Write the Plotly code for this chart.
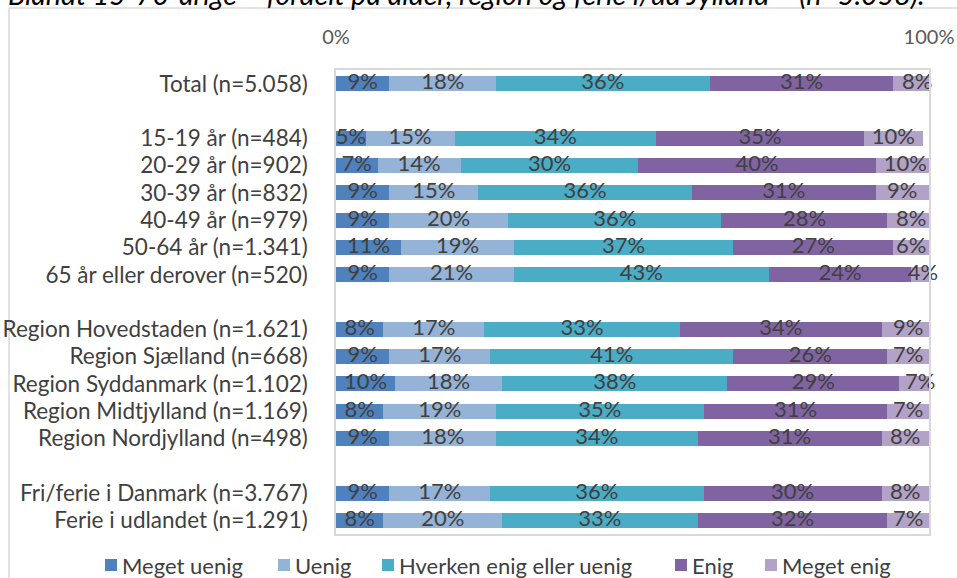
import plotly.graph_objects as go

# Row labels (blank entries act as spacers between groups)
rows = [
    "Total (n=5.058)", " ",
    "15-19 år (n=484)", "20-29 år (n=902)", "30-39 år (n=832)",
    "40-49 år (n=979)", "50-64 år (n=1.341)", "65 år eller derover (n=520)", "  ",
    "Region Hovedstaden (n=1.621)", "Region Sjælland (n=668)",
    "Region Syddanmark (n=1.102)", "Region Midtjylland (n=1.169)",
    "Region Nordjylland (n=498)", "   ",
    "Fri/ferie i Danmark (n=3.767)", "Ferie i udlandet (n=1.291)",
]

series_names = ["Meget uenig", "Uenig", "Hverken enig eller uenig", "Enig", "Meget enig"]

meget_uenig = [9, None, 5, 7, 9, 9, 11, 9, None, 8, 9, 10, 8, 9, None, 9, 8]
uenig = [18, None, 15, 14, 15, 20, 19, 21, None, 17, 17, 18, 19, 18, None, 17, 20]
hverken = [36, None, 34, 30, 36, 36, 37, 43, None, 33, 41, 38, 35, 34, None, 36, 33]
enig = [31, None, 35, 40, 31, 28, 27, 24, None, 34, 26, 29, 31, 31, None, 30, 32]
meget_enig = [8, None, 10, 10, 9, 8, 6, 4, None, 9, 7, 7, 7, 8, None, 8, 7]

x_ticks = [0, 100]
x_ticktext = ["0%", "100%"]

title_text = "Blandt 15-70-årige – fordelt på alder, region og ferie i/ud Jylland – (n=5.058)."

colors = ["#4F81BD", "#95B3D7", "#4BACC6", "#8064A2", "#B2A2C7"]
series = [meget_uenig, uenig, hverken, enig, meget_enig]

FONT = "Lato, 'Open Sans', sans-serif"
TXT = "#404040"

fig = go.Figure()

for name, vals, col in zip(series_names, series, colors):
    fig.add_trace(go.Bar(
        name=name, y=rows, x=vals, orientation="h",
        marker=dict(color=col, line=dict(width=0)),
        hoverinfo="skip", showlegend=False,
    ))

# Value labels centred on each segment
start = [0 if v is not None else None for v in meget_uenig]
for vals in series:
    cx, cy, tx = [], [], []
    for i, v in enumerate(vals):
        if v is None:
            continue
        cx.append(start[i] + v / 2)
        cy.append(rows[i])
        tx.append(f"{v}%")
        start[i] += v
    fig.add_trace(go.Scatter(
        x=cx, y=cy, mode="text", text=tx, textposition="middle center",
        textfont=dict(family=FONT, size=22, color=TXT),
        showlegend=False, cliponaxis=False, hoverinfo="skip",
    ))

L, R, T, B = 336, 28, 70, 44
W, H = 957, 578
pw, ph = W - L - R, H - T - B


def px_x(p):
    return (p - L) / pw


def px_y(p):
    return (H - B - p) / ph


# Outer chart-area frame
fig.add_shape(type="rect", xref="paper", yref="paper",
              x0=px_x(9), x1=px_x(W + 20), y0=px_y(H + 20), y1=px_y(8),
              line=dict(color="#d9d9d9", width=1.5), fillcolor="rgba(0,0,0,0)",
              layer="below")

fig.add_annotation(
    text=f"<i>{title_text}</i>", xref="paper", yref="paper",
    x=px_x(6), y=px_y(-6), xanchor="left", yanchor="middle", showarrow=False,
    font=dict(family=FONT, size=28.5, color="#000000"),
)

# Legend row: colour key squares followed by series names
legend_left = [105, 278, 382, 675, 765]
legend_y = 565
for name, col, lx in zip(series_names, colors, legend_left):
    fig.add_shape(type="rect", xref="paper", yref="paper",
                  x0=px_x(lx), x1=px_x(lx + 12),
                  y0=px_y(legend_y + 6), y1=px_y(legend_y - 6),
                  line=dict(width=0), fillcolor=col)
    fig.add_annotation(text=name, xref="paper", yref="paper",
                       x=px_x(lx + 15), y=px_y(legend_y), xanchor="left",
                       yanchor="middle", showarrow=False,
                       font=dict(family=FONT, size=22, color=TXT))

label_rows = [r for r in rows if r.strip()]

fig.update_layout(
    width=W, height=H,
    margin=dict(l=L, r=R, t=T, b=B, autoexpand=False),
    barmode="stack", bargap=0.45,
    plot_bgcolor="white", paper_bgcolor="white",
    font=dict(family=FONT, color=TXT, size=22),
    showlegend=False,
    xaxis=dict(
        range=[0, 100], side="top", tickvals=x_ticks, ticktext=x_ticktext,
        showgrid=False, zeroline=False, ticks="", automargin=False,
        showline=True, mirror=True, linecolor="#d9d9d9", linewidth=1.5,
        tickfont=dict(family=FONT, size=20, color="#595959"),
        ticklabelstandoff=16, fixedrange=True,
    ),
    yaxis=dict(
        categoryorder="array", categoryarray=rows,
        range=[len(rows) - 0.5, -0.5],
        tickmode="array", tickvals=label_rows, ticktext=label_rows,
        showgrid=False, zeroline=False, ticks="", automargin=False,
        showline=True, mirror=True, linecolor="#d9d9d9", linewidth=1.5,
        tickfont=dict(family=FONT, size=22.5, color=TXT),
        ticklabelstandoff=22, fixedrange=True,
    ),
)

fig.write_html("out.html")
